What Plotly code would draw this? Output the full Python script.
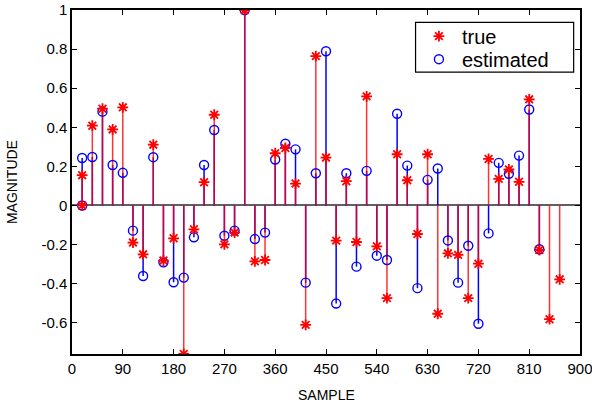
import plotly.graph_objects as go

# sample positions (first sample at 18 carries an extra zero-valued point)
true_samples = [18, 18, 36, 54, 72, 90, 108, 126, 144, 162, 180, 198, 216, 234, 252, 270,
                288, 306, 324, 342, 360, 378, 396, 414, 432, 450, 468, 486, 504, 522,
                540, 558, 576, 594, 612, 630, 648, 666, 684, 702, 720, 738, 756, 774,
                792, 810, 828, 846, 864]
true_vals = [0.0, 0.155, 0.408, 0.495, 0.389, 0.502, -0.190, -0.250, 0.311, -0.282, -0.168,
             -0.760, -0.122, 0.119, 0.464, -0.199, -0.139, 1.0, -0.286, -0.279, 0.267,
             0.294, 0.112, -0.611, 0.764, 0.245, -0.180, 0.124, -0.187, 0.558, -0.209,
             -0.474, 0.262, 0.129, -0.146, 0.262, -0.554, -0.245, -0.253, -0.474, -0.298,
             0.238, 0.136, 0.184, 0.121, 0.543, -0.228, -0.582, -0.378]

est_samples = [18, 18, 36, 54, 72, 90, 108, 126, 144, 162, 180, 198, 216, 234, 252, 270,
               288, 306, 324, 342, 360, 378, 396, 414, 432, 450, 468, 486, 504, 522,
               540, 558, 576, 594, 612, 630, 648, 666, 684, 702, 720, 738, 756, 774,
               792, 810, 828]
est_vals = [0.0, 0.243, 0.248, 0.480, 0.207, 0.167, -0.129, -0.361, 0.247, -0.291, -0.393,
            -0.369, -0.163, 0.207, 0.386, -0.155, -0.129, 1.0, -0.172, -0.139, 0.235,
            0.316, 0.287, -0.395, 0.165, 0.789, -0.502, 0.165, -0.313, 0.177, -0.257,
            -0.279, 0.469, 0.204, -0.423, 0.131, 0.189, -0.179, -0.395, -0.206, -0.605,
            -0.143, 0.218, 0.162, 0.255, 0.491, -0.224]

x_ticks = [0, 90, 180, 270, 360, 450, 540, 630, 720, 810, 900]
y_ticks = [-0.6, -0.4, -0.2, 0, 0.2, 0.4, 0.6, 0.8, 1]
y_tick_labels = ["-0.6", "-0.4", "-0.2", "0", "0.2", "0.4", "0.6", "0.8", "1"]

FONT = "Liberation Sans, Arial, sans-serif"


def stems(xs, ys):
    sx, sy = [], []
    for x, y in zip(xs, ys):
        sx += [x, x, None]
        sy += [0, y, None]
    return sx, sy


fig = go.Figure()

bx, by = stems(est_samples, est_vals)
fig.add_trace(go.Scatter(x=bx, y=by, mode="lines", line=dict(color="#0000ff", width=1.5),
                         showlegend=False, hoverinfo="skip"))
rx, ry = stems(true_samples, true_vals)
fig.add_trace(go.Scatter(x=rx, y=ry, mode="lines", line=dict(color="rgba(255,0,0,0.8)", width=1.5),
                         showlegend=False, hoverinfo="skip"))

fig.add_trace(go.Scatter(x=est_samples, y=est_vals, mode="markers", name="estimated",
                         legend="legend2",
                         marker=dict(symbol="circle-open", size=9, color="#0000ff",
                                     line=dict(color="#0000ff", width=1.4))))
fig.add_trace(go.Scatter(x=true_samples, y=true_vals, mode="markers", name="true",
                         legend="legend",
                         marker=dict(symbol="asterisk-open", size=9, color="#ff0000",
                                     line=dict(color="#ff0000", width=1.8))))

legend_common = dict(xanchor="left", yanchor="middle", bgcolor="rgba(0,0,0,0)",
                     borderwidth=0, itemwidth=36,
                     font=dict(family=FONT, size=20, color="black"))

fig.update_layout(
    width=592, height=405,
    margin=dict(l=72, r=12, t=10, b=51, autoexpand=False),
    paper_bgcolor="white", plot_bgcolor="white",
    font=dict(family=FONT, size=15, color="black"),
    legend=dict(x=0.677, y=0.924, **legend_common),
    legend2=dict(x=0.677, y=0.857, **legend_common),
    showlegend=True,
    shapes=[dict(type="rect", xref="paper", yref="paper", x0=0.6763, x1=0.9875,
                 y0=0.8192, y1=0.9643, fillcolor="white", layer="above",
                 line=dict(color="black", width=1.2))],
    annotations=[
        dict(text="SAMPLE", xref="paper", yref="paper", x=0.5, y=-0.118,
             xanchor="center", yanchor="middle", showarrow=False,
             font=dict(family=FONT, size=14, color="black")),
        dict(text="MAGNITUDE", xref="paper", yref="paper", x=-0.118, y=0.5,
             xanchor="center", yanchor="middle", showarrow=False, textangle=-90,
             font=dict(family=FONT, size=14, color="black")),
    ],
)

fig.update_xaxes(range=[0, 900], tickvals=x_ticks, ticks="inside", ticklen=5, tickwidth=1,
                 tickcolor="black", showline=True, linecolor="black", linewidth=1.5,
                 mirror="ticks", showgrid=False, zeroline=False, automargin=False,
                 ticklabeloverflow="allow",
                 tickfont=dict(family=FONT, size=15))
fig.update_yaxes(range=[-0.76, 1], tickvals=y_ticks, ticktext=y_tick_labels, ticks="inside",
                 ticklen=5, tickwidth=1, tickcolor="black", showline=True, linecolor="black",
                 linewidth=1.5, mirror="ticks", showgrid=False, automargin=False,
                 zeroline=True, zerolinecolor="#606060", zerolinewidth=1.5,
                 ticklabeloverflow="allow",
                 tickfont=dict(family=FONT, size=15))

fig.write_html("out.html")
